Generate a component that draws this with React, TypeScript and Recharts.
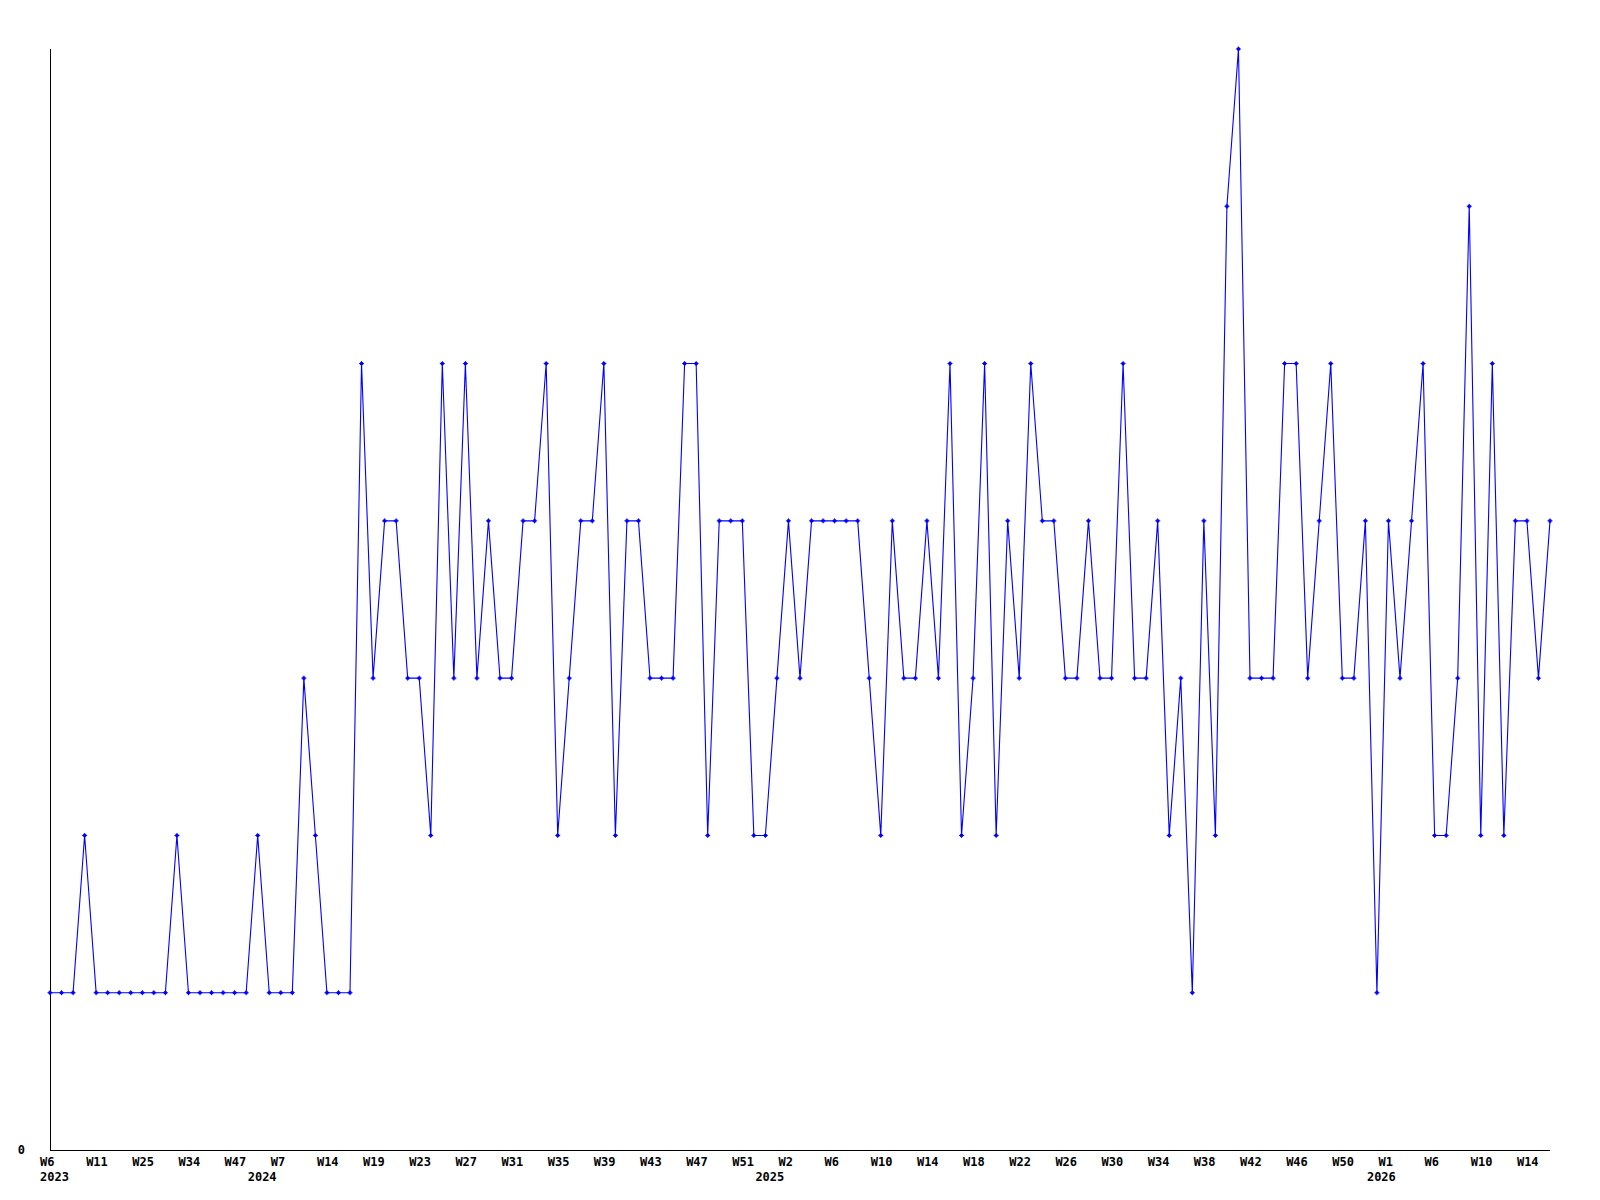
// @ts-nocheck
import { Line, LineChart, XAxis, YAxis } from 'recharts';

// weekly values, oldest first (2023 W6 .. 2026 W16)
const values = [
  1, 1, 1, 2, 1, 1, 1, 1, 1, 1,
  1, 2, 1, 1, 1, 1, 1, 1, 2, 1,
  1, 1, 3, 2, 1, 1, 1, 5, 3, 4,
  4, 3, 3, 2, 5, 3, 5, 3, 4, 3,
  3, 4, 4, 5, 2, 3, 4, 4, 5, 2,
  4, 4, 3, 3, 3, 5, 5, 2, 4, 4,
  4, 2, 2, 3, 4, 3, 4, 4, 4, 4,
  4, 3, 2, 4, 3, 3, 4, 3, 5, 2,
  3, 5, 2, 4, 3, 5, 4, 4, 3, 3,
  4, 3, 3, 5, 3, 3, 4, 2, 3, 1,
  4, 2, 6, 7, 3, 3, 3, 5, 5, 3,
  4, 5, 3, 3, 4, 1, 4, 3, 4, 5,
  2, 2, 3, 6, 2, 5, 2, 4, 4, 3,
  4,
];

// one week label every LABEL_STEP points
const LABEL_STEP = 4;
const weekLabels = [
  'W6', 'W11', 'W25', 'W34', 'W47', 'W7', 'W14', 'W19', 'W23', 'W27', 'W31',
  'W35', 'W39', 'W43', 'W47', 'W51', 'W2', 'W6', 'W10', 'W14', 'W18', 'W22',
  'W26', 'W30', 'W34', 'W38', 'W42', 'W46', 'W50', 'W1', 'W6', 'W10', 'W14',
];
const yearLabels = ['2023', '2024', '2025', '2026'];
const yearStarts = [0, 18, 62, 115];

const data = values.map((v, i) => ({ i, v }));
const weekTicks = weekLabels.map((_, k) => k * LABEL_STEP);
const ticks = Array.from(new Set([...weekTicks, ...yearStarts])).sort((a, b) => a - b);

const FONT = '"DejaVu Sans Mono", "Liberation Mono", monospace';
const BLUE = '#0000ff';

function XTick({ x, y, payload }) {
  const idx = payload.value;
  const week = idx % LABEL_STEP === 0 ? weekLabels[idx / LABEL_STEP] : null;
  const yi = yearStarts.indexOf(idx);
  return (<g fontFamily={FONT} fontSize={12} fontWeight="bold" fill="#000">
      {week && <text x={x - 10} y={y + 16}>{week}</text>}
      {yi >= 0 && <text x={x - 10} y={y + 31}>{yearLabels[yi]}</text>}
    </g>);
}

function YTick({ x, y, payload }) {
  return (<text x={x - 25} y={y + 4} textAnchor="end" fontFamily={FONT} fontSize={12} fontWeight="bold" fill="#000">
      {payload.value}
    </text>);
}

function Marker({ cx, cy }) {
  if (cx == null || cy == null)
    return null;
  return (<g fill={BLUE}>
      <rect x={cx - 2.5} y={cy - 0.5} width={5} height={1}/>
      <rect x={cx - 0.5} y={cy - 2.5} width={1} height={5}/>
      <rect x={cx - 1.5} y={cy - 1.5} width={3} height={3}/>
    </g>);
}

const axisLine = { stroke: '#000', strokeWidth: 1, shapeRendering: 'crispEdges' };

export default function App() {
  return (<div style={{ position: 'absolute', left: 0, top: 0, width: 1600, height: 1200, background: '#fff' }}>
      <LineChart width={1600} height={1200} data={data} margin={{ top: 49, right: 50, bottom: 10, left: 0 }}>
        <XAxis dataKey="i" type="number" domain={[0, values.length - 1]} ticks={ticks} interval={0} height={40} axisLine={axisLine} tickLine={false} tickSize={0} tickMargin={0} tick={<XTick />}/>
        <YAxis type="number" domain={[0, 7]} ticks={[0]} width={50} axisLine={axisLine} tickLine={false} tickSize={0} tickMargin={0} tick={<YTick />}/>
        <Line type="linear" dataKey="v" stroke={BLUE} strokeWidth={1.1} dot={<Marker />} activeDot={false} isAnimationActive={false}/>
      </LineChart>
    </div>);
}
